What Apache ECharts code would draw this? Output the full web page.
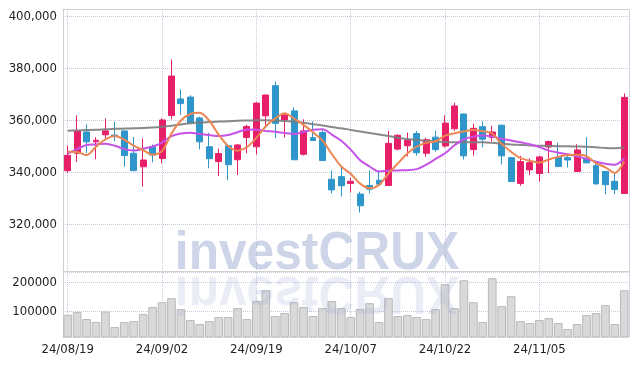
<!DOCTYPE html>
<html><head><meta charset="utf-8">
<script src="https://cdn.jsdelivr.net/npm/echarts@6/dist/echarts.min.js"></script>
<style>html,body{margin:0;padding:0;background:#fff}#c{width:637px;height:366px}</style>
</head><body><div id="c"></div>
<script>
const dates = ['24/08/19','24/08/20','24/08/21','24/08/22','24/08/23','24/08/26','24/08/27','24/08/28','24/08/29','24/08/30',
 '24/09/02','24/09/03','24/09/04','24/09/05','24/09/06','24/09/09','24/09/10','24/09/11','24/09/12','24/09/13',
 '24/09/19','24/09/20','24/09/23','24/09/24','24/09/25','24/09/26','24/09/27','24/09/30','24/10/02','24/10/04',
 '24/10/07','24/10/08','24/10/10','24/10/11','24/10/14','24/10/15','24/10/16','24/10/17','24/10/18','24/10/21',
 '24/10/22','24/10/23','24/10/24','24/10/25','24/10/28','24/10/29','24/10/30','24/10/31','24/11/01','24/11/04',
 '24/11/05','24/11/06','24/11/07','24/11/08','24/11/11','24/11/12','24/11/13','24/11/14','24/11/15','24/11/18'];
const opens = [340700,347400,355600,351800,354500,354400,356000,347400,342200,349900,
 345400,361900,368300,369000,361000,349900,344200,350300,344900,353500,
 349900,361800,373400,360200,363700,347000,353400,355400,337400,338400,
 335800,331700,335000,337000,335000,349000,350300,355000,347400,353600,
 350200,356800,362500,348800,357600,353500,358200,345700,335800,341000,
 339600,349800,345900,345700,340400,345400,342600,340400,336600,331900];
const closes = [346600,356000,351800,352400,356000,353800,346500,340700,344800,346700,
 360200,377100,366500,358900,351800,345300,347300,343000,350600,357700,
 366700,369800,358900,362100,344900,356000,352300,344600,333300,334900,
 336600,327200,333600,335500,351200,354300,352500,347600,352600,348800,
 359000,365600,346400,357000,352800,355600,346400,336500,344200,343800,
 346000,351900,342300,344800,348700,343700,335600,335300,333500,368900];
const lows = [339900,344000,347500,345100,352600,352000,342200,340700,334500,343900,
 343500,360500,362200,358700,348900,341600,338600,337100,339000,347400,
 346900,357400,353200,353500,344800,346500,352200,344500,332000,330800,
 332300,324600,332000,335300,334800,348500,346200,346500,346000,348000,
 349600,356000,345000,346500,349700,352000,343100,336300,334900,339000,
 336500,339800,342000,341900,340300,343600,335400,331600,331600,331800];
const highs = [350300,362000,358500,353600,360800,359500,356200,353600,353100,350800,
 360800,383500,372000,369700,361500,355300,349200,350800,351000,358400,
 367000,370000,375000,362400,365100,360500,359700,356200,340800,342500,
 338000,332600,340800,340500,356000,354700,355400,356000,353400,356000,
 362000,366800,362700,358800,359700,358000,358400,346000,346400,345400,
 346400,352300,351500,347200,350900,353600,344500,340600,339500,370400];
const volumes = [88600,97900,73800,63400,100000,46200,63400,66900,91000,115200,
 132400,146200,108300,70300,56600,66900,80700,80700,111700,73800,
 135900,173800,84100,94500,132400,115200,84600,111700,135900,111700,
 80700,108300,128900,63400,146200,84100,87600,80700,73800,108300,
 194500,111700,208300,132400,63400,215200,118600,153100,66900,60000,
 70300,77200,60000,39300,56600,87600,94500,122100,56600,173800];
const ma5 = [348000,347900,346700,349900,352700,354000,352600,350300,348600,346800,
 348200,355000,360000,362500,363000,360000,354500,350200,348400,349800,
 353300,357800,360800,362800,360700,358300,355500,352300,347100,342300,
 339500,335700,333900,335200,339600,343500,347300,350000,351400,352000,
 354200,355100,355800,356300,355900,355000,351000,348000,345500,344500,
 343800,345000,346000,346700,346800,346300,343600,342000,339800,344200];
const ma10 = [347300,349000,350600,350800,351100,350300,349000,348500,349100,350000,
 351500,354000,355000,355300,354800,354400,354000,354400,355500,356500,
 356400,356000,355700,355200,354800,355600,356400,356600,354600,352200,
 348800,344700,342300,340400,340700,340800,340900,341300,343000,345200,
 347400,350500,352800,353800,354200,353800,353000,352300,351600,350900,
 349800,348400,347600,347000,346200,345300,344100,343400,343000,345400];
const maLong = [356100,356200,356300,356400,356600,356800,356900,357000,357100,357300,
 357600,358000,358500,358900,359200,359400,359600,359700,359900,360000,
 360100,360100,360000,359800,359500,359100,358600,358100,357500,357000,
 356400,355800,355200,354600,354000,353400,352900,352500,352200,351900,
 351700,351600,351600,351600,351600,351400,351100,350800,350600,350400,
 350300,350200,350100,350100,350000,349900,349700,349400,349300,349600];
const priceTicks = [320000,340000,360000,380000,400000];
const volumeTicks = [100000,200000];

const FONT = '"DejaVu Sans Condensed","DejaVu Sans",sans-serif';
const candles = dates.map((d,i)=>[opens[i],closes[i],lows[i],highs[i]]);
const chart = echarts.init(document.getElementById('c'), null, {renderer:'canvas'});
const gridCol = '#c6cadc';
chart.setOption({
  animation:false,
  backgroundColor:'#fff',
  grid:[{left:63,right:8,top:9,height:262},{left:63,right:8,top:272,height:65}],
  xAxis:[
    {type:'category',gridIndex:0,data:dates,boundaryGap:true,
     axisLine:{show:true,lineStyle:{color:'#d0d0d0'}},axisTick:{show:false},axisLabel:{show:false},
     splitLine:{show:true,interval:9,alignWithLabel:true,lineStyle:{type:'dotted',color:gridCol}}},
    {type:'category',gridIndex:1,data:dates,boundaryGap:true,
     axisLine:{show:false},axisTick:{show:false},
     axisLabel:{interval:9,fontSize:13,fontFamily:FONT,color:'#222',margin:6},
     splitLine:{show:true,interval:9,alignWithLabel:true,lineStyle:{type:'dotted',color:gridCol}}},
    {type:'value',gridIndex:0,position:'top',min:0,max:1,
     axisLine:{show:true,lineStyle:{color:'#d0d0d0'}},axisTick:{show:false},axisLabel:{show:false},splitLine:{show:false}}
  ],
  yAxis:[
    {type:'value',gridIndex:0,min:302100,max:402900,splitNumber:5,
     axisLine:{show:true,lineStyle:{color:'#d0d0d0'}},axisTick:{show:false},
     axisLabel:{fontSize:13,fontFamily:FONT,color:'#222',margin:6,
       formatter:v=>priceTicks.includes(v)?v.toLocaleString('en-US'):''},
     splitLine:{show:true,lineStyle:{type:'dotted',color:gridCol}}},
    {type:'value',gridIndex:1,min:11700,max:236900,splitNumber:2,
     axisLine:{show:true,lineStyle:{color:'#d0d0d0'}},axisTick:{show:false},
     axisLabel:{fontSize:13,fontFamily:FONT,color:'#222',margin:6,
       formatter:v=>volumeTicks.includes(v)?String(v):''},
     splitLine:{show:true,lineStyle:{type:'dotted',color:gridCol}}},
    {type:'value',gridIndex:0,position:'right',min:0,max:1,
     axisLine:{show:true,lineStyle:{type:'dotted',color:gridCol}},axisTick:{show:false},axisLabel:{show:false},splitLine:{show:false}},
    {type:'value',gridIndex:1,position:'right',min:0,max:1,
     axisLine:{show:true,lineStyle:{type:'dotted',color:gridCol}},axisTick:{show:false},axisLabel:{show:false},splitLine:{show:false}}
  ],
  series:[
    {type:'bar',xAxisIndex:1,yAxisIndex:1,data:volumes,barCategoryGap:'8%',clip:true,
     itemStyle:{color:'#d9d9d9',borderColor:'#b9b9b9',borderWidth:1}},
    {type:'candlestick',xAxisIndex:0,yAxisIndex:0,data:candles,barWidth:'68%',
     itemStyle:{color:'#e71f69',color0:'#2f96cb',borderColor:'#e71f69',borderColor0:'#2f96cb',borderWidth:1}},
    {type:'line',xAxisIndex:0,yAxisIndex:0,data:maLong,showSymbol:false,smooth:0.3,
     lineStyle:{color:'#7c7c7c',width:2,opacity:0.9}},
    {type:'line',xAxisIndex:0,yAxisIndex:0,data:ma10,showSymbol:false,smooth:0.3,
     lineStyle:{color:'#c653e8',width:2}},
    {type:'line',xAxisIndex:0,yAxisIndex:0,data:ma5,showSymbol:false,smooth:0.3,
     lineStyle:{color:'#ec8653',width:2}}
  ],
  graphic:[
    {type:'text',x:317,y:254,scaleX:0.92,z:100,silent:true,
     style:{text:'investCRUX',font:'bold 54px "Liberation Sans"',fill:'rgba(160,172,212,0.5)',align:'center',verticalAlign:'middle'}},
    {type:'text',x:317,y:292,scaleX:0.92,scaleY:-1,z:100,silent:true,
     style:{text:'investCRUX',font:'bold 54px "Liberation Sans"',fill:'rgba(160,172,212,0.22)',align:'center',verticalAlign:'middle'}}
  ]
});
</script></body></html>
